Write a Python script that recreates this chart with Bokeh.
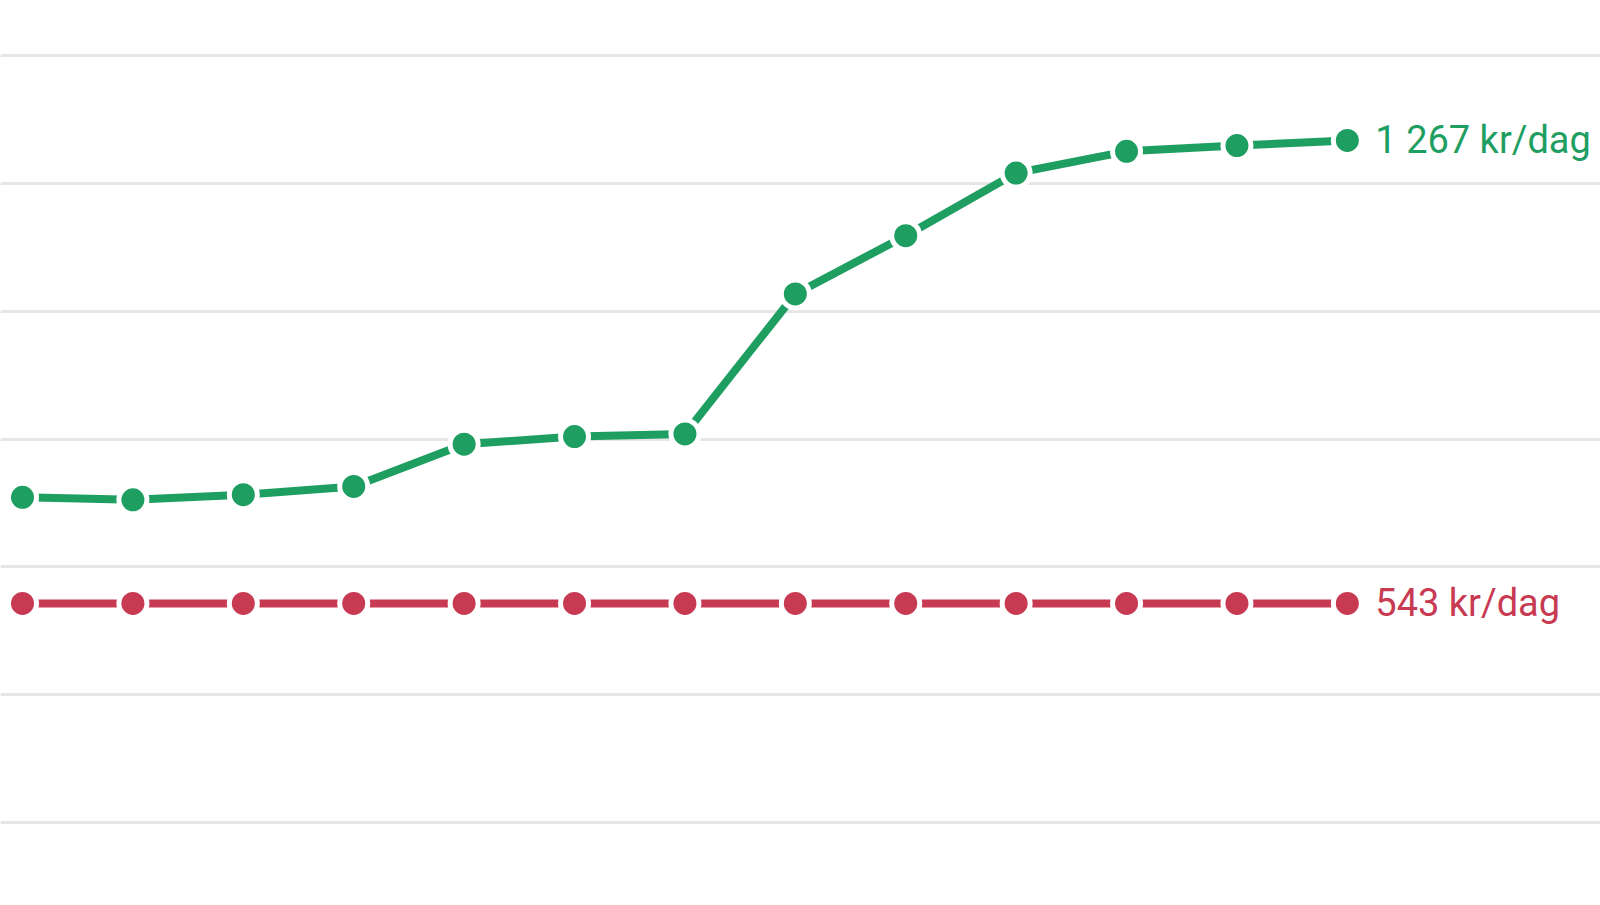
from bokeh.plotting import figure
from bokeh.models import Range1d, FixedTicker, ColumnDataSource
from bokeh.embed import file_html
from bokeh.resources import INLINE
from bokeh.core.properties import value

# ---- data ----
periods = list(range(13))
green_values = [709, 705, 713, 726, 792, 804, 808, 1027, 1118, 1216, 1250, 1259, 1267]
red_values = [543] * 13
grid_ticks = [200, 400, 600, 800, 1000, 1200, 1400]
unit = "kr/dag"

GREEN = "#1f9e62"
RED = "#c73a52"

p = figure(width=1600, height=905, output_backend="svg", toolbar_location=None,
           x_range=Range1d(-0.1993, 14.293), y_range=Range1d(70.7, 1485.8),
           min_border=0, min_border_left=0, min_border_right=0,
           min_border_top=0, min_border_bottom=0)
p.outline_line_color = None
p.background_fill_color = "white"
p.border_fill_color = "white"
p.xaxis.visible = False
p.yaxis.visible = False
p.yaxis.ticker = FixedTicker(ticks=grid_ticks)
p.ygrid.ticker = FixedTicker(ticks=grid_ticks)
p.ygrid.grid_line_color = "#e6e6e6"
p.ygrid.grid_line_width = 3
p.xgrid.visible = False

def fmt(v):
    return f"{v:,}".replace(",", " ") + " " + unit

for vals, col in [(red_values, RED), (green_values, GREEN)]:
    src = ColumnDataSource(dict(x=periods, y=vals))
    p.line("x", "y", source=src, line_color=col, line_width=8)
    p.scatter("x", "y", source=src, size=28, fill_color=col, line_color="white", line_width=5)
    lab = ColumnDataSource(dict(x=[periods[-1]], y=[vals[-1]], t=[fmt(vals[-1])]))
    p.text("x", "y", text="t", source=lab, text_color=col,
           text_font=value("Roboto"), text_font_size="38px",
           text_baseline="alphabetic", text_align="left",
           x_offset=28, y_offset=0)

open("out.html", "w").write(file_html(p, INLINE))
